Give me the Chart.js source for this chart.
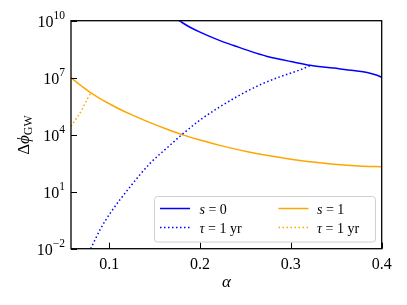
<!DOCTYPE html>
<html>
<head>
<meta charset="utf-8">
<script src="https://cdn.jsdelivr.net/npm/chart.js@4.4.0/dist/chart.umd.min.js"></script>
<style>
html,body{margin:0;padding:0;background:#fff;}
canvas{display:block;}
</style>
</head>
<body>
<canvas id="c" width="407" height="305" style="width:407px;height:305px"></canvas>
<script>
// ---- data ----
const xTicks = [0.1, 0.2, 0.3, 0.4];
const xTickLabels = ['0.1', '0.2', '0.3', '0.4'];
const yTicks = [1e-2, 1e1, 1e4, 1e7, 1e10];
const yTickExp = ['\u22122', '1', '4', '7', '10'];

// s = 0, solid
const alphaS0 = [0.177, 0.188, 0.2, 0.222, 0.237, 0.255, 0.274, 0.288, 0.3, 0.321, 0.347, 0.369, 0.384, 0.394, 0.4];
const phiS0   = [1e10, 4.8e9, 2.5e9, 8.9e8, 5.0e8, 2.5e8, 1.32e8, 9.3e7, 7.1e7, 4.5e7, 3.2e7, 2.4e7, 1.9e7, 1.4e7, 1.05e7];

// s = 0, tau = 1 yr, dotted
const alphaT0 = [0.0797, 0.09, 0.101, 0.123, 0.145, 0.167, 0.18, 0.2, 0.222, 0.244, 0.266, 0.288, 0.31, 0.321];
const phiT0   = [1e-2, 1e-1, 0.72, 18, 310, 2800, 1e4, 5.9e4, 2.95e5, 1.23e6, 4.2e6, 1.12e7, 2.57e7, 4.3e7];

// s = 1, solid
const alphaS1 = [0.058, 0.07, 0.08, 0.09, 0.1, 0.11, 0.125, 0.145, 0.163, 0.182, 0.2, 0.225, 0.255, 0.28, 0.31, 0.347, 0.375, 0.4];
const phiS1   = [1e7, 3.55e6, 1.58e6, 7.9e5, 4.3e5, 2.4e5, 1.1e5, 4.3e4, 2.0e4, 9.5e3, 5.2e3, 2.5e3, 1.2e3, 725, 437, 282, 224, 204];

// s = 1, tau = 1 yr, dotted
const alphaT1 = [0.058, 0.064, 0.0698, 0.0745, 0.079, 0.081];
const phiT1   = [2.8e4, 7.1e4, 2.0e5, 5.5e5, 1.35e6, 1.66e6];

const legendLabels = [['s', ' = 0'], ['\u03c4', ' = 1 yr'], ['s', ' = 1'], ['\u03c4', ' = 1 yr']];

const BLUE = '#0000ff';
const ORANGE = '#ffa500';
const SERIF = '"Liberation Serif", "DejaVu Serif", serif';

function pts(xs, ys) { return xs.map((x, i) => ({x: x, y: ys[i]})); }

const overlay = {
  id: 'overlay',
  afterDraw(chart) {
    const ctx = chart.ctx;
    const a = chart.chartArea;
    const xs = chart.scales.x, ys = chart.scales.y;
    ctx.save();
    // frame
    ctx.strokeStyle = '#000';
    ctx.lineWidth = 1.3;
    ctx.strokeRect(a.left, a.top, a.right - a.left, a.bottom - a.top);
    // ticks (inward)
    ctx.lineWidth = 1;
    ctx.beginPath();
    xTicks.forEach(v => {
      const px = Math.round(xs.getPixelForValue(v)) + 0.5;
      ctx.moveTo(px, a.bottom); ctx.lineTo(px, a.bottom - 6);
    });
    yTicks.forEach(v => {
      const py = Math.round(ys.getPixelForValue(v)) + 0.5;
      ctx.moveTo(a.left, py); ctx.lineTo(a.left + 6, py);
    });
    ctx.stroke();
    // x tick labels
    ctx.fillStyle = '#000';
    ctx.font = '16px ' + SERIF;
    ctx.textAlign = 'center';
    ctx.textBaseline = 'alphabetic';
    xTicks.forEach((v, i) => {
      ctx.fillText(xTickLabels[i], xs.getPixelForValue(v), 268.5);
    });
    // y tick labels 10^n
    ctx.textAlign = 'left';
    yTicks.forEach((v, i) => {
      const py = ys.getPixelForValue(v);
      ctx.font = '11.5px ' + SERIF;
      const we = ctx.measureText(yTickExp[i]).width;
      ctx.font = '16px ' + SERIF;
      const wb = ctx.measureText('10').width;
      const right = 65;
      const x0 = right - we - wb;
      ctx.fillText('10', x0, py + 6.5);
      ctx.font = '11.5px ' + SERIF;
      ctx.fillText(yTickExp[i], x0 + wb, py - 1.5);
    });
    // x axis title
    ctx.font = 'italic 17px ' + SERIF;
    ctx.textAlign = 'center';
    ctx.fillText('\u03b1', (a.left + a.right) / 2, 286.5);
    // y axis title (rotated)
    ctx.save();
    ctx.translate(28.5, 135);
    ctx.rotate(-Math.PI / 2);
    ctx.textAlign = 'left';
    ctx.font = '17px ' + SERIF;
    const wD = ctx.measureText('\u0394').width;
    ctx.font = 'italic 17px ' + SERIF;
    const wP = ctx.measureText('\u03d5').width;
    ctx.font = '12px ' + SERIF;
    const wG = ctx.measureText('GW').width;
    let tx = -(wD + wP + wG) / 2;
    ctx.font = '17px ' + SERIF;
    ctx.fillText('\u0394', tx, 0); tx += wD;
    ctx.font = 'italic 17px ' + SERIF;
    ctx.fillText('\u03d5', tx, 0); tx += wP;
    ctx.font = '12px ' + SERIF;
    ctx.fillText('GW', tx, 3);
    ctx.restore();
    // legend
    const lx = 154.5, ly = 196.5, lw = 221, lh = 45.5, r = 3;
    ctx.beginPath();
    ctx.moveTo(lx + r, ly);
    ctx.lineTo(lx + lw - r, ly); ctx.arcTo(lx + lw, ly, lx + lw, ly + r, r);
    ctx.lineTo(lx + lw, ly + lh - r); ctx.arcTo(lx + lw, ly + lh, lx + lw - r, ly + lh, r);
    ctx.lineTo(lx + r, ly + lh); ctx.arcTo(lx, ly + lh, lx, ly + lh - r, r);
    ctx.lineTo(lx, ly + r); ctx.arcTo(lx, ly, lx + r, ly, r);
    ctx.closePath();
    ctx.fillStyle = 'rgba(255,255,255,0.8)';
    ctx.fill();
    ctx.strokeStyle = '#d0d0d0';
    ctx.lineWidth = 1;
    ctx.stroke();
    const entries = [
      {c: BLUE, dash: [], hx: 160, tx: 199.5, y: 208.5, lab: legendLabels[0]},
      {c: BLUE, dash: [1.5, 2.5], hx: 160, tx: 199.5, y: 227.5, lab: legendLabels[1]},
      {c: ORANGE, dash: [], hx: 278.5, tx: 317, y: 208.5, lab: legendLabels[2]},
      {c: ORANGE, dash: [1.5, 2.5], hx: 278.5, tx: 317, y: 227.5, lab: legendLabels[3]}
    ];
    entries.forEach(e => {
      ctx.beginPath();
      ctx.strokeStyle = e.c;
      ctx.lineWidth = 1.5;
      ctx.setLineDash(e.dash);
      ctx.moveTo(e.hx, e.y); ctx.lineTo(e.hx + 30, e.y);
      ctx.stroke();
      ctx.setLineDash([]);
      ctx.fillStyle = '#000';
      ctx.textAlign = 'left';
      ctx.font = 'italic 14px ' + SERIF;
      ctx.fillText(e.lab[0], e.tx, e.y + 5);
      const w = ctx.measureText(e.lab[0]).width;
      ctx.font = '14px ' + SERIF;
      ctx.fillText(e.lab[1], e.tx + w, e.y + 5);
    });
    ctx.restore();
  }
};

new Chart(document.getElementById('c'), {
  type: 'line',
  data: {
    datasets: [
      {label: 's = 0', data: pts(alphaS0, phiS0), borderColor: BLUE, borderWidth: 1.5, pointRadius: 0, cubicInterpolationMode: 'monotone'},
      {label: 'tau = 1 yr (s = 0)', data: pts(alphaT0, phiT0), borderColor: BLUE, borderWidth: 1.5, borderDash: [1.5, 2.5], pointRadius: 0, cubicInterpolationMode: 'monotone'},
      {label: 's = 1', data: pts(alphaS1, phiS1), borderColor: ORANGE, borderWidth: 1.5, pointRadius: 0, cubicInterpolationMode: 'monotone'},
      {label: 'tau = 1 yr (s = 1)', data: pts(alphaT1, phiT1), borderColor: ORANGE, borderWidth: 1.5, borderDash: [1.5, 2.5], pointRadius: 0, cubicInterpolationMode: 'monotone'}
    ]
  },
  options: {
    responsive: false,
    animation: false,
    devicePixelRatio: 1,
    layout: {padding: {left: 0, top: 20.7, right: 25.3, bottom: 0}},
    scales: {
      x: {type: 'linear', min: 0.058, max: 0.4, ticks: {display: false}, grid: {display: false}, border: {display: false},
          afterFit(s) { s.height = 56.3; }},
      y: {type: 'logarithmic', min: 1e-2, max: 1e10, ticks: {display: false}, grid: {display: false}, border: {display: false},
          afterFit(s) { s.width = 71; }}
    },
    plugins: {legend: {display: false}, tooltip: {enabled: false}}
  },
  plugins: [overlay]
});
</script>
</body>
</html>
